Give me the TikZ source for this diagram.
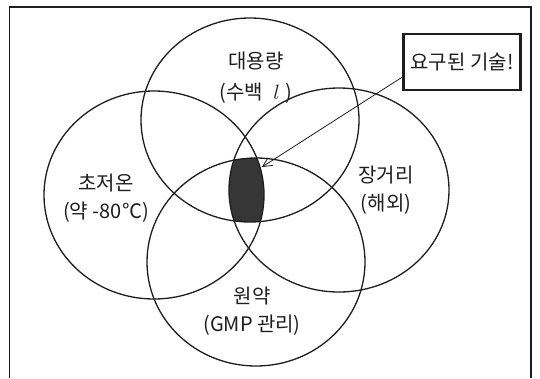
\documentclass[tikz,border=0pt]{standalone}
\usepackage{fontspec}
\setmainfont{Noto Sans CJK KR}
\usetikzlibrary{arrows.meta}
\definecolor{ink}{HTML}{1E1E1E}
\definecolor{darkfill}{HTML}{363636}
\tikzset{
  ring/.style={draw=ink, line width=1.3pt},
  lbl/.style={align=center, font=\fontsize{20}{28}\selectfont, text=ink, inner sep=0pt},
  callout/.style={draw=ink, line width=2.2pt, minimum width=117pt, minimum height=56pt, font=\fontsize{20}{24}\selectfont, text=ink},
  pointer/.style={draw=ink, line width=0.8pt, -{Straight Barb[length=9pt,width=9pt]}}
}
\begin{document}
\begin{tikzpicture}[x=1pt,y=-1pt]
\useasboundingbox (0,0) rectangle (540,378);
\fill[white] (0,0) rectangle (540,378);
% frame
\draw[ink, line width=1.3pt] (9.5,378) -- (9.5,7) -- (531,7) -- (531,378);
% dark intersection
\begin{scope}
\clip (250,120) ellipse [x radius=109, y radius=102];
\clip (154,195) ellipse [x radius=110, y radius=104];
\clip (339,190) ellipse [x radius=110, y radius=102];
\fill[darkfill] (256,262) ellipse [x radius=109, y radius=104];
\end{scope}
% circles
\draw[ring] (250,120) ellipse [x radius=109, y radius=102];
\draw[ring] (154,195) ellipse [x radius=110, y radius=104];
\draw[ring] (339,190) ellipse [x radius=110, y radius=102];
\draw[ring] (256,262) ellipse [x radius=109, y radius=104];
% labels
\node[lbl, font=\fontsize{20}{31}\selectfont] (top) at (256,78) {대용량\\(수백 \;$l$\;)};
\node[lbl] (left) at (106,198) {초저온\\(약 -80℃)};
\node[lbl] (right) at (386,190) {장거리\\(해외)};
\node[lbl] (bottom) at (252,311) {원약\\(GMP 관리)};
% callout
\node[callout] (box) at (462,62) {요구된 기술!};
\coordinate (tip) at (262,167);
\draw[pointer] ([yshift=-15pt]box.west) -- (tip);
\end{tikzpicture}
\end{document}
